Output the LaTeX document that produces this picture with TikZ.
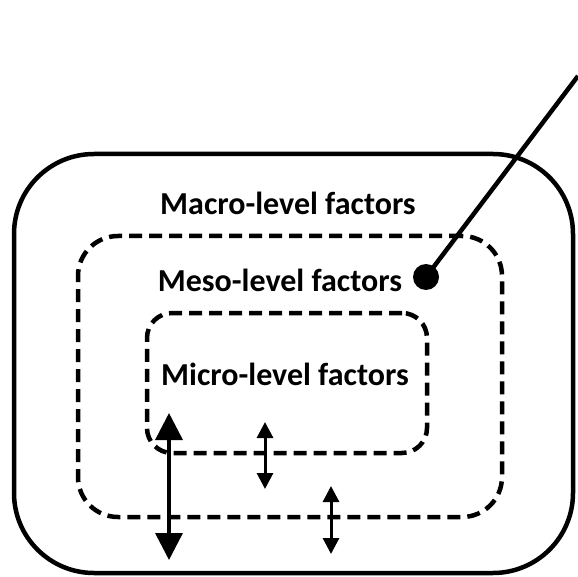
\documentclass[tikz,border=0pt]{standalone}
\usepackage{fontspec}
\setmainfont{Carlito}
\usetikzlibrary{arrows.meta, positioning}
\tikzset{
	levelbox/.style ={rectangle, draw=black, line width=4.5pt, inner sep=0pt},
	dashbox/.style  ={levelbox, dash pattern=on 13pt off 7pt},
	lbl/.style      ={font=\fontsize{32}{38}\selectfont\bfseries, inner sep=0pt},
	bigsig/.style   ={{Triangle[width=27pt, length=27pt]}-{Triangle[width=27pt, length=27pt]}, line width=3.5pt},
	smallsig/.style ={{Triangle[width=16pt, length=16pt]}-{Triangle[width=16pt, length=16pt]}, line width=3pt},
}
\begin{document}
\begin{tikzpicture}[x=1pt, y=-1pt]
	\useasboundingbox (0,0) rectangle (578,577);
	% nested levels
	\node[levelbox, rounded corners=80pt, minimum width=559pt, minimum height=419pt] (macro) at (293.5,363.5) {};
	\node[dashbox, rounded corners=40pt, minimum width=424pt, minimum height=281pt] (meso) at (290,376.5) {};
	\node[dashbox, rounded corners=25pt, minimum width=280pt, minimum height=140pt] (micro) at (287,383) {};
	\node[lbl] (macrotxt) at (288,203) {Macro-level factors};
	\node[lbl] (mesotxt) at (280,280) {Meso-level factors};
	\node[lbl] (microtxt) at (285,374) {Micro-level factors};
	% pointer
	\node[circle, fill=black, minimum size=26pt, inner sep=0pt] (dot) at (426,277) {};
	\coordinate (tip) at (578,76);
	\draw[line width=4.5pt] (dot.center) -- (tip);
	% interactions
	\coordinate (b1) at (169,413); \coordinate (b2) at (169,560);
	\coordinate (s1) at (265,422); \coordinate (s2) at (265,489);
	\coordinate (t1) at (331,486); \coordinate (t2) at (331,554);
	\draw[bigsig] (b1) -- (b2);
	\draw[smallsig] (s1) -- (s2);
	\draw[smallsig] (t1) -- (t2);
\end{tikzpicture}
\end{document}
